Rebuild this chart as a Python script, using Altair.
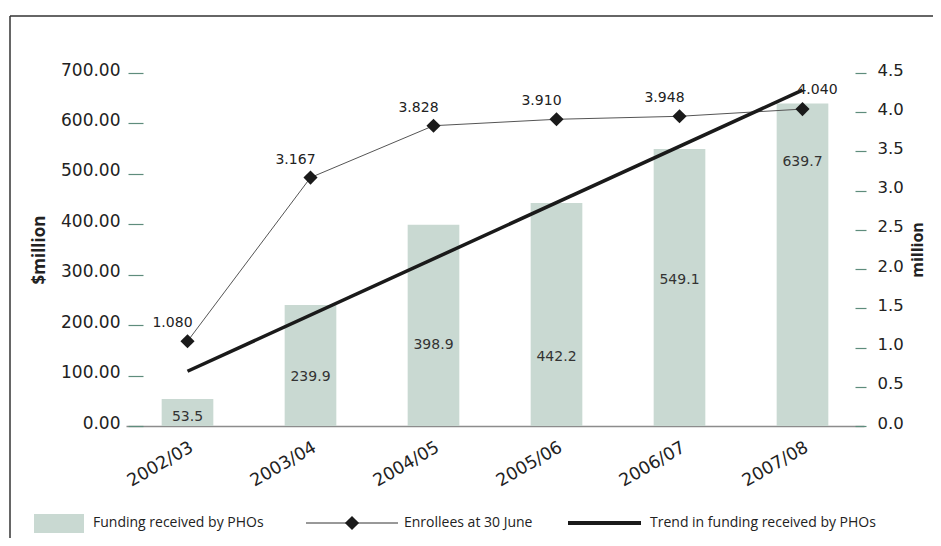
import altair as alt
import pandas as pd

years = ["2002/03", "2003/04", "2004/05", "2005/06", "2006/07", "2007/08"]
funding = [53.5, 239.9, 398.9, 442.2, 549.1, 639.7]
enrollees = [1.080, 3.167, 3.828, 3.910, 3.948, 4.040]
funding_label_at = [18, 97, 161, 137, 290, 524]
funding_ticks = [0, 100, 200, 300, 400, 500, 600, 700]
enrollee_ticks = [0.0, 0.5, 1.0, 1.5, 2.0, 2.5, 3.0, 3.5, 4.0, 4.5]
legend_labels = ["Funding received by PHOs", "Enrollees at 30 June",
                 "Trend in funding received by PHOs"]

df = pd.DataFrame({
    "year": years,
    "i": list(range(len(years))),
    "funding": funding,
    "enrollees": enrollees,
    "label_at": funding_label_at,
})

BAR = "#c9d9d2"
TICK = "#5e8c7c"
TXT = "#222222"
NUM_FONT = "DejaVu Sans"
LEG_FONT = "Open Sans"

xband = alt.Scale(domain=years, paddingInner=0.58, paddingOuter=0.29)
yfund = alt.Scale(domain=[0, 700], nice=False, zero=True)
yenr = alt.Scale(domain=[0, 4.5], nice=False, zero=True)

def xn(axis=None):
    return alt.X("year:N", sort=years, scale=xband, axis=axis, title=None)

x_axis = alt.Axis(labelAngle=-30, ticks=False, domainColor="#8c8c8c", domainWidth=1.5,
                  labelFont=NUM_FONT, labelFontSize=17.5, labelColor=TXT, labelPadding=12,
                  grid=False)

left_axis = alt.Axis(orient="left", values=funding_ticks, format=".2f", offset=-17,
                     tickSize=15, tickColor=TICK, tickWidth=1.2, domain=False, grid=False,
                     labelPadding=8, labelOffset=-3, labelFont=NUM_FONT, labelFontSize=17,
                     labelColor=TXT, title="$million", titleFont=LEG_FONT, titleFontSize=17,
                     titleFontWeight="bold", titleColor=TXT, titlePadding=12)

right_axis = alt.Axis(orient="right", values=enrollee_ticks, format=".1f", offset=-9,
                      tickSize=11, tickColor=TICK, tickWidth=1.2, domain=False, grid=False,
                      labelPadding=11, labelOffset=-3, labelFont=NUM_FONT, labelFontSize=16.5,
                      labelColor=TXT, title="million", titleFont=LEG_FONT, titleFontSize=16,
                      titleFontWeight="bold", titleColor=TXT, titlePadding=22, titleAngle=270)

base = alt.Chart(df)

bars = base.mark_bar(color=BAR).encode(
    x=xn(x_axis),
    y=alt.Y("funding:Q", scale=yfund, axis=left_axis),
)

bar_labels = base.mark_text(font=NUM_FONT, fontSize=14, color="#333333", baseline="middle").encode(
    x=xn(),
    y=alt.Y("label_at:Q", scale=yfund, axis=None),
    text=alt.Text("funding:Q", format=".1f"),
)

enr_line = base.mark_line(color="#555555", strokeWidth=1).encode(
    x=xn(),
    y=alt.Y("enrollees:Q", scale=yenr, axis=right_axis),
)

trend = base.transform_regression("i", "funding").mark_line(
    color="#1a1a1a", strokeWidth=3.5
).encode(
    x=alt.X("i:Q", scale=alt.Scale(domain=[-0.5, 5.5], nice=False, zero=False), axis=None),
    y=alt.Y("funding:Q", scale=yfund, axis=None),
)

diamonds = base.mark_point(shape="diamond", filled=True, color="#1a1a1a", size=200, opacity=1).encode(
    x=xn(),
    y=alt.Y("enrollees:Q", scale=yenr, axis=None),
)

pt_labels_left = base.transform_filter("datum.i < 5").mark_text(
    font=NUM_FONT, fontSize=14, color=TXT, dx=-15, dy=-18, baseline="middle"
).encode(
    x=xn(),
    y=alt.Y("enrollees:Q", scale=yenr, axis=None),
    text=alt.Text("enrollees:Q", format=".3f"),
)

pt_labels_right = base.transform_filter("datum.i >= 5").mark_text(
    font=NUM_FONT, fontSize=14, color=TXT, dx=15, dy=-19, baseline="middle"
).encode(
    x=xn(),
    y=alt.Y("enrollees:Q", scale=yenr, axis=None),
    text=alt.Text("enrollees:Q", format=".3f"),
)

def one(label):
    return alt.Chart(pd.DataFrame({"label": [label]}))

leg_y = 450
leg_swatch = one(legend_labels[0]).mark_rect(color=BAR).encode(
    x=alt.value(-92), x2=alt.value(-42), y=alt.value(441), y2=alt.value(460))
leg_txt0 = one(legend_labels[0]).mark_text(align="left", baseline="middle", font=LEG_FONT,
                                           fontSize=14, color=TXT).encode(
    x=alt.value(-33), y=alt.value(leg_y), text="label:N")
leg_line1 = one(legend_labels[1]).mark_rule(color="#333333", strokeWidth=1).encode(
    x=alt.value(180), x2=alt.value(272), y=alt.value(leg_y))
leg_dia1 = one(legend_labels[1]).mark_point(shape="diamond", filled=True, color="#1a1a1a",
                                            size=200, opacity=1).encode(
    x=alt.value(226), y=alt.value(leg_y))
leg_txt1 = one(legend_labels[1]).mark_text(align="left", baseline="middle", font=LEG_FONT,
                                           fontSize=14, color=TXT).encode(
    x=alt.value(278), y=alt.value(leg_y), text="label:N")
leg_line2 = one(legend_labels[2]).mark_rule(color="#1a1a1a", strokeWidth=4).encode(
    x=alt.value(442), x2=alt.value(515), y=alt.value(leg_y))
leg_txt2 = one(legend_labels[2]).mark_text(align="left", baseline="middle", font=LEG_FONT,
                                           fontSize=14, color=TXT).encode(
    x=alt.value(524), y=alt.value(leg_y), text="label:N")

frame_left = one("frame").mark_rule(color="#333333", strokeWidth=1.5).encode(
    x=alt.value(-116), y=alt.value(-57), y2=alt.value(470))
frame_top = one("frame").mark_rule(color="#333333", strokeWidth=1.5).encode(
    x=alt.value(-116), x2=alt.value(820), y=alt.value(-57))

chart = alt.layer(
    bars, bar_labels, enr_line, trend, diamonds, pt_labels_left, pt_labels_right,
    leg_swatch, leg_txt0, leg_line1, leg_dia1, leg_txt1, leg_line2, leg_txt2,
    frame_left, frame_top,
).resolve_scale(
    x="independent", y="independent"
).properties(
    width=738, height=353,
    padding={"left": 118, "top": 65, "right": 69, "bottom": 112},
    autosize=alt.AutoSizeParams(type="none"),
).configure_view(stroke=None)

chart.save("out.html", embed_options={"renderer": "svg", "actions": False})
